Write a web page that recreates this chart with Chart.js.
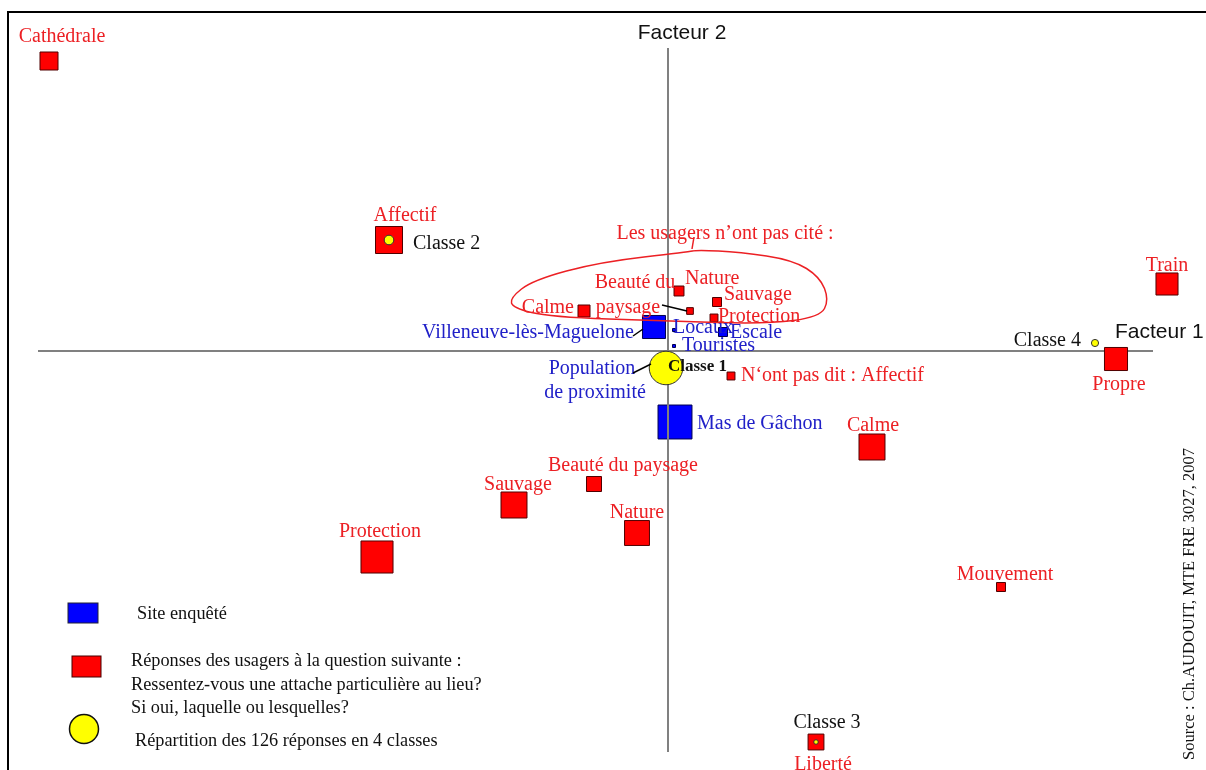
<!DOCTYPE html>
<html>
<head>
<meta charset="utf-8">
<script src="https://cdn.jsdelivr.net/npm/chart.js@4.4.0/dist/chart.umd.min.js"></script>
<style>
  body { margin: 0; background: #fff; }
  #wrap { width: 1206px; height: 770px; position: relative; }
</style>
</head>
<body>
<div id="wrap"><canvas id="chart"></canvas></div>
<script>
// coordonnees sur les facteurs 1 et 2, effectifs estimes
var reponses = ['Cathédrale', 'Affectif', 'Train', 'Propre', 'Calme', 'Mouvement', 'Liberté',
  'Protection', 'Sauvage', 'Beauté du paysage', 'Nature', 'N‘ont pas dit : Affectif',
  'Calme', 'Nature', 'Beauté du paysage', 'Sauvage', 'Protection'];
var reponsesF1 = [-6.19, -2.79, 4.99, 4.48, 2.04, 3.33, 1.48, -2.91, -1.54, -0.74, -0.31, 0.63,
  -0.84, 0.11, 0.22, 0.49, 0.46];
var reponsesF2 = [2.90, 1.11, 0.67, -0.08, -0.96, -2.36, -3.91, -2.06, -1.54, -1.33, -1.82, -0.25,
  0.40, 0.60, 0.40, 0.49, 0.33];
var reponsesEff = [36, 81, 54, 59, 75, 9, 28, 114, 75, 25, 69, 7, 16, 11, 5, 9, 7];

var sites = ['Villeneuve-lès-Maguelone', 'Locaux', 'Escale', 'Touristes', 'Mas de Gâchon'];
var sitesF1 = [-0.14, 0.06, 0.55, 0.06, 0.07];
var sitesF2 = [0.24, 0.21, 0.19, 0.05, -0.71];
var sitesEff = [59, 1, 9, 1, 128];

var classes = ['Classe 1', 'Classe 2', 'Classe 3', 'Classe 4'];
var classesF1 = [-0.02, -2.79, 1.48, 4.27];
var classesF2 = [-0.17, 1.11, -3.91, 0.08];
var classesEff = [110, 9, 2, 5];

var axeF1 = [-6.30, 4.85];
var axeF2 = [3.03, -4.01];

// contour "Les usagers n'ont pas cite"
var contourF1 = [0.20, -0.68, -1.35, -1.58, -1.55, -1.18, -0.01, 0.99, 1.52, 1.61, 1.52, 1.25, 0.72, 0.29];
var contourF2 = [0.99, 0.89, 0.71, 0.53, 0.43, 0.34, 0.30, 0.27, 0.34, 0.51, 0.74, 0.91, 0.99, 1.01];

function pts(xs, ys) {
  return xs.map(function(x, i) { return { x: x, y: ys[i] }; });
}
function cote(n) { return 3 * Math.sqrt(n); }   // cote du carre en px

var SERIF = '"Liberation Serif", "Times New Roman", serif';
var SANS = '"Liberation Sans", Arial, sans-serif';
var ROUGE = '#ec2024', BLEU = '#2020c8';

// placement des etiquettes (decalage en px par rapport au point)
var placeReponses = [
  { dx: 13, dy: -26 }, { dx: 16, dy: -26 }, { dx: 0, dy: -20 }, { dx: 3, dy: 24 },
  { dx: 1, dy: -23 }, { dx: 4, dy: -14 }, { dx: 7, dy: 21 }, { dx: 3, dy: -27 },
  { dx: 4, dy: -22 }, { dx: 29, dy: -20 }, { dx: 0, dy: -22 }, { dx: 10, dy: -2, align: 'left' },
  { dx: -10, dy: -5, align: 'right' }, { dx: 6, dy: -14, align: 'left' },
  { lines: [{ t: 'Beauté du', dx: -55, dy: -30 }, { t: 'paysage', dx: -62, dy: -5 }], leader: [-28, -6, -3, 0] },
  { dx: 7, dy: -9, align: 'left' }, { dx: 4, dy: -3, align: 'left' }
];
var placeSites = [
  { dx: -20, dy: 4, align: 'right', leader: [-21, 9, -11, 2] },
  { dx: -1, dy: -4, align: 'left' }, { dx: 7, dy: -1, align: 'left' },
  { dx: 8, dy: -2, align: 'left' }, { dx: 22, dy: 0, align: 'left' }
];
var placeClasses = [
  { dx: 2, dy: -3, align: 'left', bold: true, leader: [-33, 5, -15, -4],
    extra: [{ t: 'Population', dx: -74, dy: -1, color: BLEU }, { t: 'de proximité', dx: -71, dy: 23, color: BLEU }] },
  { dx: 24, dy: 2, align: 'left' }, { dx: 11, dy: -21 }, { dx: -14, dy: -4, align: 'right' }
];

var decor = {
  id: 'decor',
  beforeDraw: function(chart) {
    var ctx = chart.ctx;
    ctx.save();
    ctx.fillStyle = '#fff';
    ctx.fillRect(0, 0, chart.width, chart.height);
    ctx.strokeStyle = '#000';
    ctx.lineWidth = 2;
    ctx.beginPath();
    ctx.moveTo(1206, 12); ctx.lineTo(8, 12); ctx.lineTo(8, 770);
    ctx.stroke();
    ctx.restore();
  },
  afterDatasetsDraw: function(chart) {
    var ctx = chart.ctx, sx = chart.scales.x, sy = chart.scales.y;
    ctx.save();
    ctx.textBaseline = 'middle';

    // contour rouge
    var c = contourF1.map(function(v, i) { return [sx.getPixelForValue(v), sy.getPixelForValue(contourF2[i])]; });
    ctx.strokeStyle = ROUGE;
    ctx.lineWidth = 1.5;
    ctx.beginPath();
    var n = c.length;
    var m0 = [(c[n - 1][0] + c[0][0]) / 2, (c[n - 1][1] + c[0][1]) / 2];
    ctx.moveTo(m0[0], m0[1]);
    for (var i = 0; i < n; i++) {
      var a = c[i], b = c[(i + 1) % n];
      ctx.quadraticCurveTo(a[0], a[1], (a[0] + b[0]) / 2, (a[1] + b[1]) / 2);
    }
    ctx.closePath();
    ctx.stroke();
    ctx.beginPath();
    ctx.moveTo(c[n - 1][0] - 5, c[n - 1][1] - 1);
    ctx.lineTo(c[n - 1][0] - 3, c[n - 1][1] - 13);
    ctx.stroke();
    ctx.fillStyle = ROUGE;
    ctx.font = '20px ' + SERIF;
    ctx.textAlign = 'center';
    ctx.fillText('Les usagers n’ont pas cité :', c[n - 1][0] + 28, c[n - 1][1] - 16);

    function etiquettes(idx, noms, place, couleur) {
      var meta = chart.getDatasetMeta(idx);
      meta.data.forEach(function(el, i) {
        var p = place[i], x = el.x, y = el.y + 2;
        ctx.font = (p.bold ? 'bold 17px ' : '20px ') + SERIF;
        ctx.fillStyle = couleur;
        if (p.lines) {
          p.lines.forEach(function(l) {
            ctx.textAlign = l.align || 'center';
            ctx.fillText(l.t, x + l.dx, y + l.dy);
          });
        } else {
          ctx.textAlign = p.align || 'center';
          ctx.fillText(noms[i], x + p.dx, y + p.dy);
        }
        if (p.extra) {
          ctx.font = '20px ' + SERIF;
          p.extra.forEach(function(l) {
            ctx.fillStyle = l.color;
            ctx.textAlign = 'center';
            ctx.fillText(l.t, x + l.dx, y + l.dy);
          });
        }
        if (p.leader) {
          ctx.strokeStyle = '#000';
          ctx.lineWidth = 1.5;
          ctx.beginPath();
          ctx.moveTo(x + p.leader[0], y - 2 + p.leader[1]);
          ctx.lineTo(x + p.leader[2], y - 2 + p.leader[3]);
          ctx.stroke();
        }
      });
    }
    etiquettes(1, reponses, placeReponses, ROUGE);
    etiquettes(4, sites, placeSites, BLEU);
    etiquettes(0, classes, placeClasses, '#111');

    // noms des axes
    ctx.fillStyle = '#111';
    ctx.font = '21px ' + SANS;
    ctx.textAlign = 'left';
    ctx.fillText('Facteur 1', sx.getPixelForValue(axeF1[1]) - 38, sy.getPixelForValue(0) - 19);
    ctx.textAlign = 'center';
    ctx.fillText('Facteur 2', sx.getPixelForValue(0) + 14, sy.getPixelForValue(axeF2[0]) - 15);

    // legende
    ctx.lineWidth = 1;
    ctx.fillStyle = '#0000ff'; ctx.strokeStyle = '#223';
    ctx.fillRect(68, 603, 30, 20); ctx.strokeRect(68, 603, 30, 20);
    ctx.fillStyle = '#ff0000'; ctx.strokeStyle = '#400';
    ctx.fillRect(72, 656, 29, 21); ctx.strokeRect(72, 656, 29, 21);
    ctx.fillStyle = '#ffff00'; ctx.strokeStyle = '#111'; ctx.lineWidth = 1.5;
    ctx.beginPath(); ctx.arc(84, 729, 14.5, 0, Math.PI * 2); ctx.fill(); ctx.stroke();
    ctx.fillStyle = '#111';
    ctx.font = '18.3px ' + SERIF;
    ctx.textAlign = 'left';
    ctx.fillText('Site enquêté', 137, 614);
    ctx.fillText('Réponses des usagers à la question suivante :', 131, 661);
    ctx.fillText('Ressentez-vous une attache particulière au lieu?', 131, 685);
    ctx.fillText('Si oui, laquelle ou lesquelles?', 131, 708);
    ctx.fillText('Répartition des 126 réponses en 4 classes', 135, 741);

    // source
    ctx.save();
    ctx.translate(1190, 604);
    ctx.rotate(-Math.PI / 2);
    ctx.textAlign = 'center';
    ctx.font = '16.5px ' + SERIF;
    ctx.fillText('Source : Ch.AUDOUIT, MTE FRE 3027, 2007', 0, 0);
    ctx.restore();

    ctx.restore();
  }
};

function rayonCarre(eff) {
  return function(ctx) { return cote(eff[ctx.dataIndex]) / Math.SQRT2; };
}

// ordre : le premier jeu est dessine au-dessus
new Chart(document.getElementById('chart'), {
  type: 'scatter',
  data: {
    datasets: [
      { data: pts(classesF1, classesF2), pointStyle: 'circle', backgroundColor: '#ffff00', borderColor: '#333',
        borderWidth: 1, clip: false,
        pointRadius: function(ctx) { return 1.6 * Math.sqrt(classesEff[ctx.dataIndex]); } },
      { data: pts(reponsesF1, reponsesF2), pointStyle: 'rect', backgroundColor: '#ff0000', borderColor: '#500000',
        borderWidth: 1, clip: false, pointRadius: rayonCarre(reponsesEff) },
      { data: pts(axeF1, [0, 0]), showLine: true, borderColor: '#808080', borderWidth: 2, pointRadius: 0, clip: false },
      { data: pts([0, 0], axeF2), showLine: true, borderColor: '#808080', borderWidth: 2, pointRadius: 0, clip: false },
      { data: pts(sitesF1, sitesF2), pointStyle: 'rect', backgroundColor: '#0000ff', borderColor: '#000050',
        borderWidth: 1, clip: false, pointRadius: rayonCarre(sitesEff) }
    ]
  },
  options: {
    responsive: true,
    maintainAspectRatio: false,
    animation: false,
    layout: { padding: 0, autoPadding: false },
    plugins: { legend: { display: false }, tooltip: { enabled: false } },
    scales: {
      x: { type: 'linear', min: -6.68, max: 5.38, display: false },
      y: { type: 'linear', min: -4.19, max: 3.51, display: false }
    }
  },
  plugins: [decor]
});
</script>
</body>
</html>
